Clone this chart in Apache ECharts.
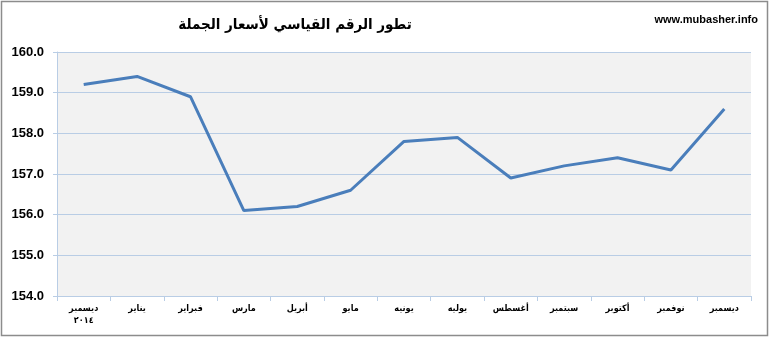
<!DOCTYPE html>
<html><head><meta charset="utf-8">
<script src="https://cdn.jsdelivr.net/npm/echarts@6/dist/echarts.min.js"></script>
<style>html,body{margin:0;padding:0;background:#fff}#c{width:770px;height:338px}</style>
</head><body><div id="c"></div>
<script>
var categories = ['ديسمبر\n٢٠١٤','يناير','فبراير','مارس','أبريل','مايو','يونيه','يوليه','أغسطس','سبتمبر','أكتوبر','نوفمبر','ديسمبر'];
var values = [159.2,159.4,158.9,156.1,156.2,156.6,157.8,157.9,156.9,157.2,157.4,157.1,158.6];
var titleText = 'تطور الرقم القياسي لأسعار الجملة';
var siteText = 'www.mubasher.info';

var chart = echarts.init(document.getElementById('c'), null, {renderer:'canvas'});
chart.setOption({
  animation:false,
  backgroundColor:'#fff',
  title:[{text:titleText,left:290,top:13,textAlign:'center',textStyle:{fontFamily:'DejaVu Sans Condensed',fontSize:15,fontWeight:'bold',color:'#000'}},
         {text:siteText,right:7,top:9,textStyle:{fontFamily:'Liberation Sans',fontSize:11,fontWeight:'bold',color:'#000'}}],
  graphic:[{type:'rect',shape:{x:1.5,y:1.5,width:766,height:334},style:{fill:'none',stroke:'#8c8c8c',lineWidth:1.5},silent:true}],
  grid:{left:57,right:19,top:52,bottom:42,show:true,backgroundColor:'#F2F2F2',borderWidth:0},
  xAxis:{type:'category',data:categories,boundaryGap:true,
    axisLine:{lineStyle:{color:'#B9CDE5'}},
    axisTick:{show:true,length:5,lineStyle:{color:'#B9CDE5'}},
    axisLabel:{fontFamily:'DejaVu Sans Condensed',fontSize:9,fontWeight:'bold',color:'#000',margin:7,lineHeight:12,interval:0}},
  yAxis:{type:'value',min:154,max:160,interval:1,
    axisLine:{show:true,lineStyle:{color:'#B9CDE5'}},
    axisTick:{show:true,length:4,lineStyle:{color:'#B9CDE5'}},
    splitLine:{lineStyle:{color:'#B9CDE5'}},
    axisLabel:{formatter:function(v){return v.toFixed(1);},fontFamily:'Liberation Sans',fontSize:13,fontWeight:'bold',color:'#000',margin:13}},
  series:[{type:'line',data:values,symbol:'none',lineStyle:{color:'#4A7EBB',width:3}}]
});
</script></body></html>
